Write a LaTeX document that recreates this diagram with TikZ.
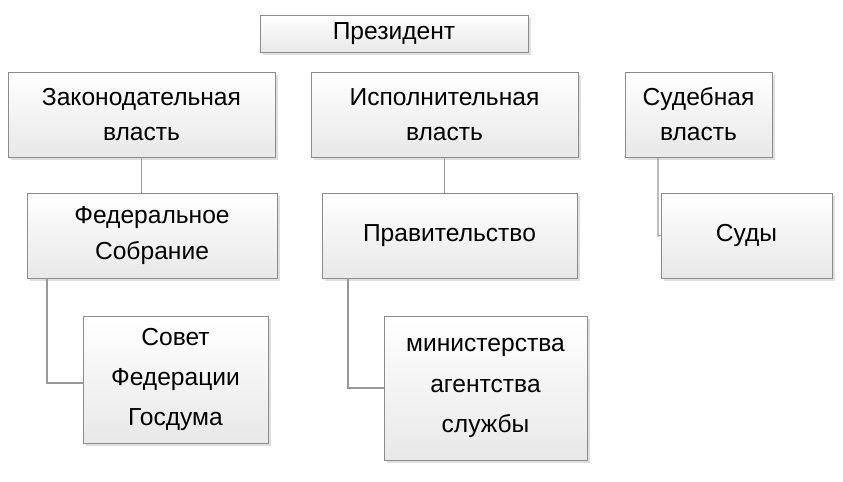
\documentclass[tikz,border=0pt]{standalone}
\usepackage{fontspec}
\setmainfont{Liberation Sans}
\usetikzlibrary{shadows}

\begin{document}
\begin{tikzpicture}[x=0.02cm,y=-0.02cm,
	box/.style={draw=black!45, top color=white, bottom color=black!9,
		drop shadow={shadow xshift=0.6mm, shadow yshift=-0.6mm, opacity=0.25},
		align=center, inner sep=0pt, font=\fontsize{14}{20}\selectfont},
	link/.style={draw=black!40, line width=0.6pt}]

	% ---- frame

	\useasboundingbox (0,0) rectangle (843,482);

	% ---- top

	\node[box, minimum width=268*0.02cm, minimum height=37*0.02cm] (pres) at (394,34) {Президент};

	% ---- branches

	\node[box, minimum width=267*0.02cm, minimum height=85*0.02cm] (leg) at (141.5,114.5) {Законодательная\\власть};
	\node[box, minimum width=267*0.02cm, minimum height=85*0.02cm] (exe) at (444.5,114.5) {Исполнительная\\власть};
	\node[box, minimum width=147*0.02cm, minimum height=85*0.02cm] (jud) at (698.5,114.5) {Судебная\\власть};

	% ---- second level

	\node[box, minimum width=250*0.02cm, minimum height=85*0.02cm] (fed) at (152,235.5) {Федеральное\\Собрание};
	\node[box, minimum width=255*0.02cm, minimum height=85*0.02cm] (gov) at (449.5,235.5) {Правительство};
	\node[box, minimum width=171*0.02cm, minimum height=85*0.02cm] (court) at (746.5,235.5) {Суды};

	% ---- third level

	\node[box, minimum width=185*0.02cm, minimum height=127*0.02cm, font=\fontsize{14}{23}\selectfont] (chamb) at (175.5,379.5) {Совет\\Федерации\\Госдума};
	\node[box, minimum width=203*0.02cm, minimum height=144*0.02cm, font=\fontsize{14}{23}\selectfont] (agenc) at (485.5,388) {министерства\\агентства\\службы};

	% ---- connectors

	\coordinate (c1) at (658,236);
	\coordinate (c2) at (47,383);
	\coordinate (c3) at (348,388);

	\begin{scope}[on background layer/.style={}]
	\draw[link] (leg.south) ++(0,0) -- (fed.north -| leg.south);
	\draw[link] (exe.south) -- (gov.north -| exe.south);
	\draw[link] (jud.south -| c1) -- (c1) -- (court.west);
	\draw[link] (fed.south -| c2) -- (c2) -- (chamb.west |- c2);
	\draw[link] (gov.south -| c3) -- (c3) -- (agenc.west |- c3);
	\end{scope}

\end{tikzpicture}
\end{document}
